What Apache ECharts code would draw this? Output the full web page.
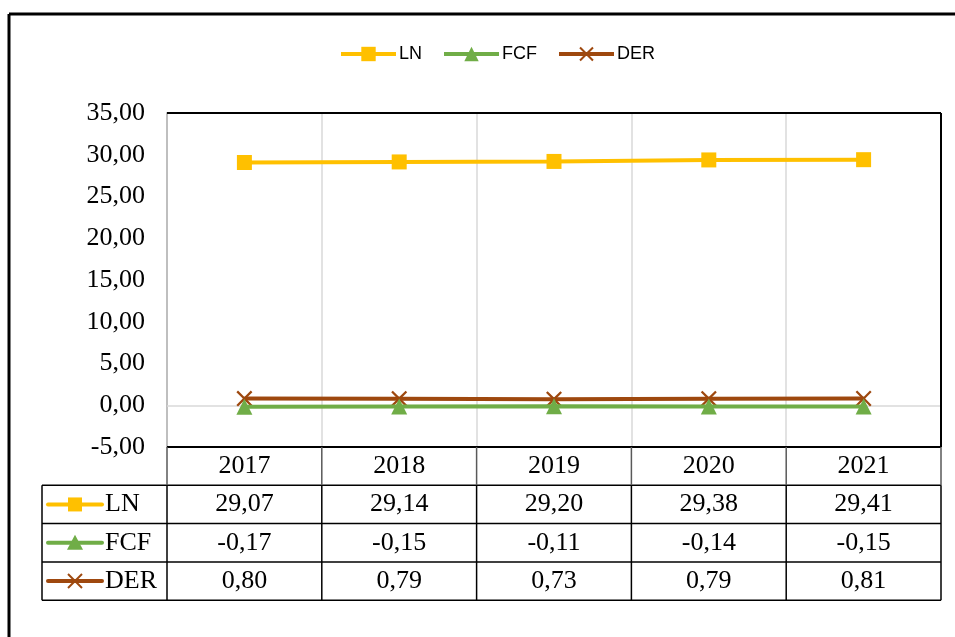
<!DOCTYPE html>
<html>
<head>
<meta charset="utf-8">
<script src="https://cdn.jsdelivr.net/npm/echarts@6/dist/echarts.min.js"></script>
<style>
  html, body { margin: 0; padding: 0; background: #fff; }
  #chart { width: 955px; height: 637px; }
</style>
</head>
<body>
<div id="chart"></div>
<script>
// Yearly indicators
const years = ['2017', '2018', '2019', '2020', '2021'];
const seriesNames = ['LN', 'FCF', 'DER'];
const lnValues = [29.07, 29.14, 29.20, 29.38, 29.41];
const fcfValues = [-0.17, -0.15, -0.11, -0.14, -0.15];
const derValues = [0.80, 0.79, 0.73, 0.79, 0.81];
const seriesColors = ['#FFC000', '#70AD47', '#9E480E'];

const yMin = -5, yMax = 35, yStep = 5;

// number format with decimal comma
const fmt = v => v.toFixed(2).replace('.', ',');

// cross marker drawn as a filled X outline
const crossPath = 'path://M0,1 L1,0 L5,4 L9,0 L10,1 L6,5 L10,9 L9,10 L5,6 L1,10 L0,9 L4,5 Z';
const symbols = ['rect', 'triangle', crossPath];
const symbolSizes = [15, 16, 16];

// layout of the plot + data table
const G = { left: 167, right: 941, top: 113, bottom: 447 };
const rowH = 38.3;
const tableLeft = 42;
const rowY = k => G.bottom + rowH * k;
const serif = '"Liberation Serif", "Times New Roman", serif';

const allValues = [lnValues, fcfValues, derValues];

const chart = echarts.init(document.getElementById('chart'), null, { renderer: 'canvas' });

const series = seriesNames.map((name, i) => ({
  name,
  type: 'line',
  data: allValues[i],
  symbol: symbols[i],
  symbolSize: symbolSizes[i],
  showSymbol: true,
  lineStyle: { color: seriesColors[i], width: 4 },
  itemStyle: { color: seriesColors[i] },
  z: 10 - i,
  animation: false
}));
// horizontal reference line at zero
series[0].markLine = {
  silent: true,
  symbol: 'none',
  label: { show: false },
  lineStyle: { color: '#d9d9d9', width: 1.5, type: 'solid' },
  data: [{ yAxis: 0 }],
  z: 1
};

// table & frame lines
const graphic = [];
const line = (x1, y1, x2, y2, color, w) => graphic.push({
  type: 'line', z: 100,
  shape: { x1, y1, x2, y2 },
  style: { stroke: color, lineWidth: w }
});
// outer frame
line(9, 14, 955, 14, '#000', 3);
line(9, 14, 9, 637, '#000', 3);
// plot frame (top, right)
line(G.left, G.top, G.right, G.top, '#000', 2);
line(G.right, G.top, G.right, G.bottom, '#000', 2);
// table horizontal lines
line(G.left, rowY(0), G.right, rowY(0), '#000', 2);
for (let k = 1; k <= 4; k++) line(tableLeft, rowY(k), G.right, rowY(k), '#000', 1.5);
// table vertical lines
line(tableLeft, rowY(1), tableLeft, rowY(4), '#000', 1.5);
const colW = (G.right - G.left) / years.length;
for (let c = 0; c <= years.length; c++) {
  const x = G.left + colW * c;
  line(x, rowY(0), x, rowY(1), '#595959', 1.5);
  line(x, rowY(1), x, rowY(4), '#000', 1.5);
}
// row headers: legend key + series name
seriesNames.forEach((name, i) => {
  const cy = rowY(i + 1) + rowH / 2;
  const col = seriesColors[i];
  graphic.push({ type: 'line', z: 101, shape: { x1: 48, y1: cy, x2: 102, y2: cy },
    style: { stroke: col, lineWidth: 4, lineCap: 'round' } });
  const cx = 75;
  if (i === 0) {
    graphic.push({ type: 'rect', z: 102, shape: { x: cx - 7, y: cy - 7, width: 14, height: 14 }, style: { fill: col } });
  } else if (i === 1) {
    graphic.push({ type: 'polygon', z: 102, shape: { points: [[cx, cy - 8], [cx + 8, cy + 7], [cx - 8, cy + 7]] }, style: { fill: col } });
  } else {
    graphic.push({ type: 'line', z: 102, shape: { x1: cx - 7, y1: cy - 7, x2: cx + 7, y2: cy + 7 }, style: { stroke: col, lineWidth: 2 } });
    graphic.push({ type: 'line', z: 102, shape: { x1: cx + 7, y1: cy - 7, x2: cx - 7, y2: cy + 7 }, style: { stroke: col, lineWidth: 2 } });
  }
  graphic.push({ type: 'text', z: 102, x: 105, y: cy,
    style: { text: name, font: '26px ' + serif, fill: '#000', verticalAlign: 'middle', textAlign: 'left' } });
});

const option = {
  backgroundColor: '#fff',
  animation: false,
  legend: {
    data: seriesNames,
    left: 334,
    top: 40,
    itemWidth: 55,
    itemHeight: 18,
    itemGap: 20,
    lineStyle: { width: 4 },
    textStyle: { fontFamily: 'Liberation Sans', fontSize: 18, color: '#000', padding: [0, 0, 0, -2] }
  },
  grid: {
    left: G.left,
    right: 955 - G.right,
    top: G.top,
    bottom: 637 - G.bottom,
    containLabel: false
  },
  xAxis: {
    type: 'category',
    data: years,
    boundaryGap: true,
    axisLine: { show: false },
    axisTick: { show: false },
    splitLine: { show: true, lineStyle: { color: '#d9d9d9', width: 1.5 } },
    axisLabel: {
      margin: 0,
      interval: 0,
      formatter: (val, idx) => [
        '{c|' + val + '}',
        '{c|' + fmt(lnValues[idx]) + '}',
        '{c|' + fmt(fcfValues[idx]) + '}',
        '{c|' + fmt(derValues[idx]) + '}'
      ].join('\n'),
      rich: {
        c: { fontFamily: serif, fontSize: 26, color: '#000', lineHeight: rowH, align: 'center' }
      }
    }
  },
  yAxis: {
    type: 'value',
    min: yMin,
    max: yMax,
    interval: yStep,
    axisLine: { show: true, lineStyle: { color: '#bfbfbf', width: 2 } },
    axisTick: { show: false },
    splitLine: { show: false },
    axisLabel: {
      margin: 22,
      formatter: v => fmt(v),
      fontFamily: serif,
      fontSize: 26,
      color: '#000'
    }
  },
  series,
  graphic
};

chart.setOption(option);
</script>
</body>
</html>
